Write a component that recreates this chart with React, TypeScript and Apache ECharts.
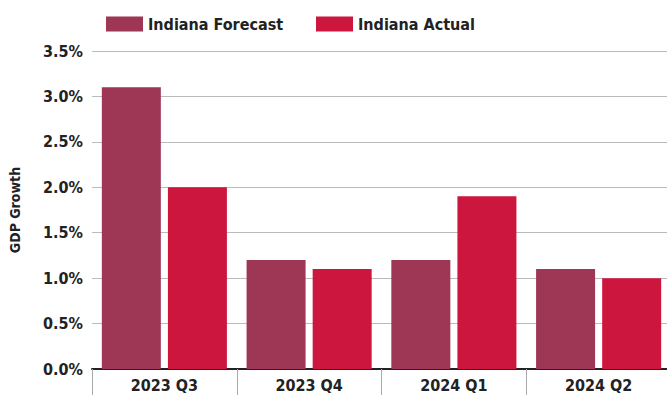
import React, { useEffect, useRef } from "react";
import * as echarts from "echarts";

const categories = ["2023 Q3", "2023 Q4", "2024 Q1", "2024 Q2"];
const forecast = [3.1, 1.2, 1.2, 1.1];
const actual = [2.0, 1.1, 1.9, 1.0];
const seriesNames = ["Indiana Forecast", "Indiana Actual"];

const FONT = "'Liberation Sans Narrow', 'DejaVu Sans Condensed', Roboto, sans-serif";

const legendBase = {
  top: 11,
  itemWidth: 37,
  itemHeight: 15,
  itemGap: 5,
  icon: "rect",
  textStyle: { fontFamily: FONT, fontWeight: "bold", fontSize: 16, color: "#222" },
};

export default function App() {
  const ref = useRef<HTMLDivElement>(null);
  useEffect(() => {
    if (!ref.current) return;
    const chart = echarts.init(ref.current, null, { renderer: "svg" });
    chart.setOption({
      animation: false,
      textStyle: { fontFamily: FONT },
      legend: [
        { ...legendBase, left: 101, data: [seriesNames[0]] },
        { ...legendBase, left: 311, data: [seriesNames[1]] },
      ],
      grid: { left: 91, top: 51, right: 0, height: 318, containLabel: false },
      xAxis: {
        type: "category",
        data: categories,
        axisLine: { lineStyle: { color: "#222", width: 2 } },
        axisTick: { show: true, length: 26, lineStyle: { color: "#aaa", width: 1 } },
        axisLabel: { fontFamily: FONT, fontWeight: "bold", fontSize: 16, color: "#222", margin: 8 },
      },
      yAxis: {
        type: "value",
        min: 0,
        max: 3.5,
        interval: 0.5,
        name: "GDP Growth",
        nameLocation: "middle",
        nameGap: 70,
        nameRotate: 90,
        nameTextStyle: { fontFamily: FONT, fontWeight: "bold", fontSize: 14, color: "#222" },
        axisLine: { show: false },
        axisTick: { show: false },
        axisLabel: {
          fontFamily: FONT,
          fontWeight: "bold",
          fontSize: 16,
          color: "#222",
          margin: 9,
          formatter: (v: number) => v.toFixed(1) + "%",
        },
        splitLine: { lineStyle: { color: "#bbb", width: 1 } },
      },
      series: [
        {
          name: seriesNames[0],
          type: "bar",
          data: forecast,
          itemStyle: { color: "#9D3755" },
          barWidth: 59,
          barGap: "12%",
        },
        {
          name: seriesNames[1],
          type: "bar",
          data: actual,
          itemStyle: { color: "#CD163E" },
          barWidth: 59,
          barGap: "12%",
        },
      ],
    });
    return () => chart.dispose();
  }, []);
  return (
    <div
      style={{ position: "absolute", left: 0, top: 0, width: 667, height: 397, overflow: "hidden" }}
    >
      <div ref={ref} style={{ width: 671, height: 397 }} />
    </div>
  );
}
